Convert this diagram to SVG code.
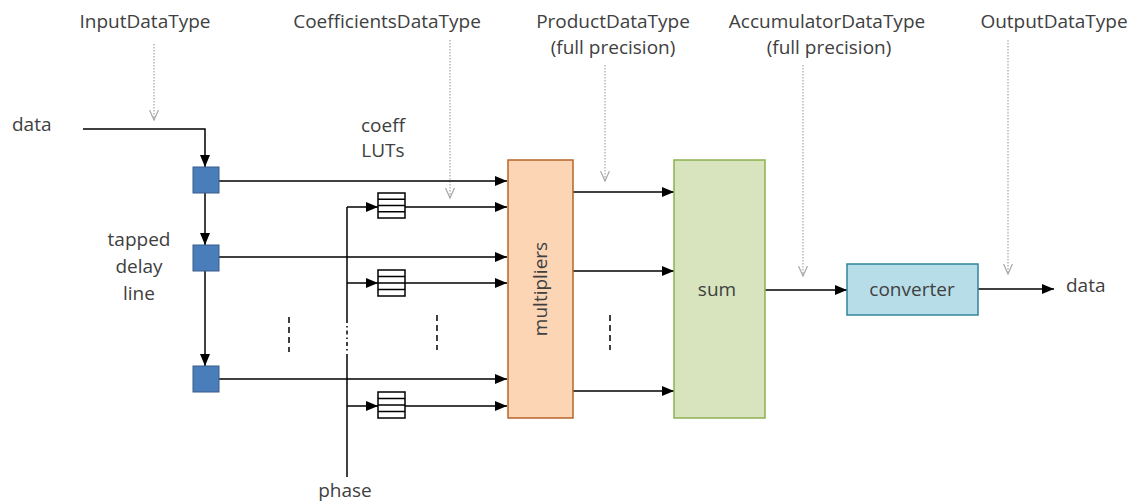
<svg xmlns="http://www.w3.org/2000/svg" width="1135" height="501" viewBox="0 0 1135 501">
<defs>
<marker id="ah" markerWidth="12" markerHeight="10" refX="12" refY="5" orient="auto" markerUnits="userSpaceOnUse">
<path d="M0,0 L12,5 L0,10 Z" fill="#000"/>
</marker>
<marker id="dh" markerWidth="12" markerHeight="10" refX="10" refY="5" orient="auto" markerUnits="userSpaceOnUse">
<path d="M0,0.5 L10,5 L0,9.5" fill="none" stroke="#a6a6a6" stroke-width="1.2"/>
</marker>
</defs>
<style>
text{font-family:"Open Sans","Noto Sans","Liberation Sans",sans-serif;font-size:19px;fill:#404040}
.c{text-anchor:middle}
.w{fill:none;stroke:#000;stroke-width:1.5}
.a{marker-end:url(#ah)}
.d{fill:none;stroke:#a6a6a6;stroke-width:1.2;stroke-dasharray:1.5 1.5;marker-end:url(#dh)}
.dl{fill:none;stroke:#000;stroke-width:1.5;stroke-dasharray:6 4}
.tap{fill:#4a7ebb;stroke:#385d8a;stroke-width:1}
.lut{fill:#fff;stroke:#000;stroke-width:1.5}
</style>
<rect width="1135" height="501" fill="#fff"/>

<g id="labels">
<text class="c" x="145" y="28">InputDataType</text>
<text class="c" x="387" y="28">CoefficientsDataType</text>
<text class="c" x="613" y="28">ProductDataType</text>
<text class="c" x="613" y="54">(full precision)</text>
<text class="c" x="827" y="28">AccumulatorDataType</text>
<text class="c" x="829" y="54">(full precision)</text>
<text class="c" x="1054" y="28">OutputDataType</text>
<text x="12" y="131">data</text>
<text class="c" x="383" y="132">coeff</text>
<text class="c" x="383" y="157">LUTs</text>
<text class="c" x="139" y="246">tapped</text>
<text class="c" x="139" y="273">delay</text>
<text class="c" x="139" y="300">line</text>
<text class="c" x="345" y="497">phase</text>
<text x="1066" y="292">data</text>
</g>

<g id="connectors">
<path class="d" d="M154,44 V120"/>
<path class="d" d="M450,40 V198"/>
<path class="d" d="M605,65 V181"/>
<path class="d" d="M803,65 V276"/>
<path class="d" d="M1008,40 V274"/>
<path class="w a" d="M83,129 H205 V167"/>
<path class="w a" d="M205,193 V245"/>
<path class="w a" d="M205,271 V366"/>
<path class="w a" d="M219,181 H507"/>
<path class="w a" d="M219,257 H507"/>
<path class="w a" d="M219,379 H507"/>
<path class="w" d="M347,207 V319"/>
<path class="w" d="M347,319 V352" stroke-dasharray="4 3 1.5 3"/>
<path class="w" d="M347,354 V477"/>
<path class="w a" d="M347,207 H378"/>
<path class="w a" d="M347,283 H378"/>
<path class="w a" d="M347,406 H378"/>
<path class="w a" d="M405,207 H507"/>
<path class="w a" d="M405,283 H507"/>
<path class="w a" d="M405,406 H507"/>
<path class="w a" d="M573,192 H674"/>
<path class="w a" d="M573,271 H674"/>
<path class="w a" d="M573,391 H674"/>
<path class="w a" d="M765,290 H847"/>
<path class="w a" d="M978,289 H1054"/>
<path class="dl" d="M289,317 V352"/>
<path class="dl" d="M437,315 V350"/>
<path class="dl" d="M610,315 V350"/>
</g>

<g id="tap1"><rect class="tap" x="193" y="167" width="26" height="26"/></g>
<g id="tap2"><rect class="tap" x="193" y="245" width="26" height="26"/></g>
<g id="tap3"><rect class="tap" x="193" y="366" width="26" height="26"/></g>

<g id="lut1"><rect class="lut" x="378" y="193" width="27" height="25"/><path class="w" d="M378,199.25 H405 M378,205.5 H405 M378,211.75 H405"/></g>
<g id="lut2"><rect class="lut" x="378" y="270" width="27" height="26"/><path class="w" d="M378,276.5 H405 M378,283 H405 M378,289.5 H405"/></g>
<g id="lut3"><rect class="lut" x="378" y="392" width="27" height="26"/><path class="w" d="M378,398.5 H405 M378,405 H405 M378,411.5 H405"/></g>

<g id="multipliers">
<rect x="508" y="160" width="65" height="258" fill="#fcd5b5" stroke="#b7652b" stroke-width="1.5"/>
<text class="c" transform="translate(547,289) rotate(-90)">multipliers</text>
</g>
<g id="sum">
<rect x="674" y="160" width="91" height="258" fill="#d7e4bd" stroke="#8db151" stroke-width="1.5"/>
<text class="c" x="717" y="296">sum</text>
</g>
<g id="converter">
<rect x="847" y="264" width="131" height="51" fill="#b7dee8" stroke="#31859c" stroke-width="1.5"/>
<text class="c" x="912" y="296">converter</text>
</g>
</svg>
